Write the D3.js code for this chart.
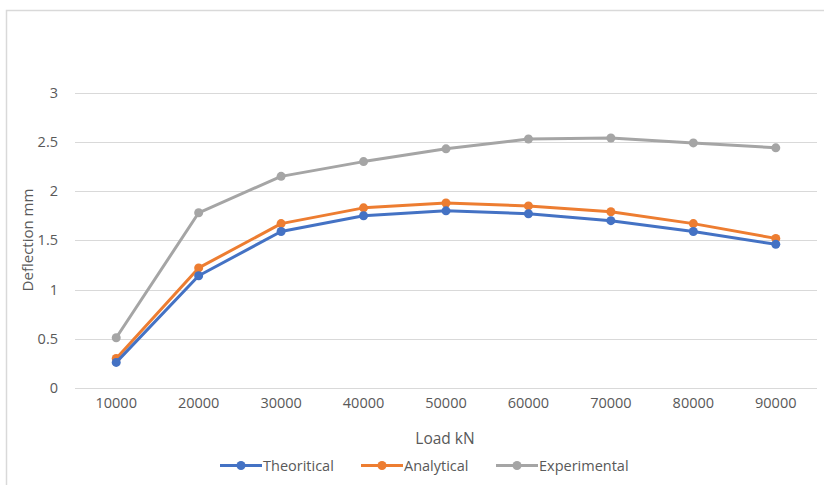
<!DOCTYPE html>
<html><head><meta charset="utf-8">
<script src="https://cdn.jsdelivr.net/npm/d3@7"></script>
<style>body{margin:0;background:#fff}svg{display:block}text{font-family:"Open Sans","Liberation Sans",sans-serif;fill:#595959}</style>
</head><body><svg id="c" width="824" height="485"></svg>
<script>
const categories = ["10000","20000","30000","40000","50000","60000","70000","80000","90000"];
const theoritical = [0.26, 1.14, 1.59, 1.75, 1.80, 1.77, 1.70, 1.59, 1.46];
const analytical = [0.30, 1.22, 1.67, 1.83, 1.88, 1.85, 1.79, 1.67, 1.52];
const experimental = [0.51, 1.78, 2.15, 2.30, 2.43, 2.53, 2.54, 2.49, 2.44];
const yTicks = [0, 0.5, 1, 1.5, 2, 2.5, 3];
const seriesNames = ["Theoritical", "Analytical", "Experimental"];
const colors = ["#4472C4", "#ED7D31", "#A5A5A5"];

const svg = d3.select("#c");
// chart frame
svg.append("rect").attr("x", 6.5).attr("y", 10.5).attr("width", 830).attr("height", 490)
  .attr("fill", "none").attr("stroke", "#d9d9d9").attr("stroke-width", 1.5);

const x = d3.scaleBand().domain(categories).range([75, 817]);
const y = d3.scaleLinear().domain([0, 3]).range([388, 92.7]);

// gridlines
svg.append("g").selectAll("line").data(yTicks).join("line")
  .attr("x1", 75).attr("x2", 817)
  .attr("y1", d => Math.round(y(d)) + 0.5).attr("y2", d => Math.round(y(d)) + 0.5)
  .attr("stroke", "#d9d9d9").attr("stroke-width", 1);

// y tick labels
const ya = svg.append("g").attr("transform", "translate(58,0)")
  .call(d3.axisLeft(y).tickValues(yTicks).tickSize(0).tickPadding(0).tickFormat(d3.format("~g")));
ya.select(".domain").remove();
ya.selectAll("text").style("font-size", "14.5px").attr("fill", "#595959");

// x tick labels
const xa = svg.append("g").attr("transform", "translate(0,398)")
  .call(d3.axisBottom(x).tickSize(0).tickPadding(0));
xa.select(".domain").remove();
xa.selectAll("text").style("font-size", "14.5px").attr("fill", "#595959");

// axis titles
svg.append("text").attr("x", 445).attr("y", 444).attr("text-anchor", "middle")
  .style("font-size", "15.5px").text("Load kN");
svg.append("text").attr("transform", "translate(33,240) rotate(-90)").attr("text-anchor", "middle")
  .style("font-size", "15px").text("Deflection mm");

const data = [theoritical, analytical, experimental];
const cx = i => x(categories[i]) + x.bandwidth() / 2;
const line = d3.line().x((d, i) => cx(i)).y(d => y(d));
[2, 1, 0].forEach(s => {
  const g = svg.append("g");
  g.append("path").datum(data[s]).attr("d", line).attr("fill", "none")
    .attr("stroke", colors[s]).attr("stroke-width", 3).attr("stroke-linejoin", "round");
  g.selectAll("circle").data(data[s]).join("circle")
    .attr("cx", (d, i) => cx(i)).attr("cy", d => y(d)).attr("r", 4.5).attr("fill", colors[s]);
});

// legend
const lx = [220, 361, 496];
const lg = svg.append("g");
seriesNames.forEach((n, i) => {
  lg.append("line").attr("x1", lx[i]).attr("x2", lx[i] + 42).attr("y1", 465.5).attr("y2", 465.5)
    .attr("stroke", colors[i]).attr("stroke-width", 3);
  lg.append("circle").attr("cx", lx[i] + 21).attr("cy", 465.5).attr("r", 4.5).attr("fill", colors[i]);
  lg.append("text").attr("x", lx[i] + 43).attr("y", 471).style("font-size", "14.5px").text(n);
});
</script></body></html>
